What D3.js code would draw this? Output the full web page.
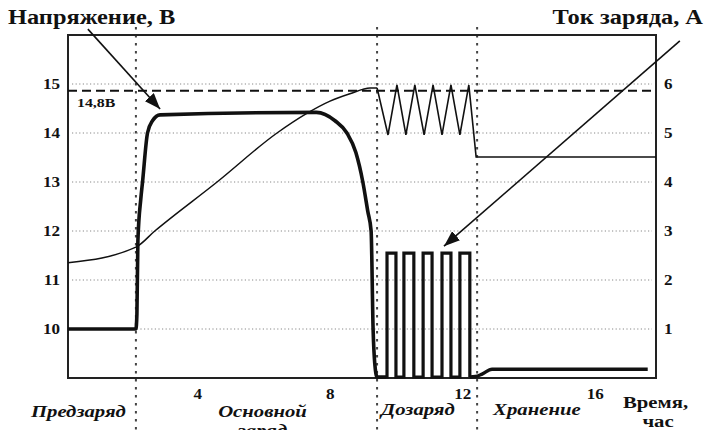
<!doctype html>
<html>
<head>
<meta charset="utf-8">
<title>Заряд аккумулятора</title>
<script src="https://cdn.jsdelivr.net/npm/d3@7"></script>
<style>
    body {
        margin: 0;
        padding: 0;
        background: #fff;
    }
    svg text {
        font-family: "Liberation Serif", "Times New Roman", "DejaVu Serif", serif;
        font-weight: bold;
        fill: #111;
    }
    .phase {
        font-style: italic;
    }
</style>
</head>
<body>
<svg id="chart" width="716" height="430"></svg>
<script>
    // axis ticks
    var xTicks = [4, 8, 12, 16];
    var voltTicks = [10, 11, 12, 13, 14, 15];
    var ampTicks = [1, 2, 3, 4, 5, 6];

    // phase borders (hours) and names
    var phaseBounds = [2.15, 9.43, 12.45];
    var phaseNames = ["Предзаряд", "Основной", "заряд", "Дозаряд", "Хранение"];
    var limitVolt = 14.86;

    // thin line - voltage (main charge)
    var voltTime  = [0.1, 2.15, 2.72, 4.6, 6.41, 7.31, 8.01, 8.61, 9.22, 9.43];
    var voltValue = [11.35, 11.67, 12.0, 13.0, 14.0, 14.4, 14.65, 14.8, 14.92, 14.92];

    // thin line - voltage zigzag in top-off, then storage level
    var topoffTime = [9.43, 9.76, 10.03, 10.3, 10.57, 10.85, 11.12, 11.39, 11.66, 11.93, 12.2, 12.42, 17.85];
    var topoffVolt = [14.92, 13.96, 14.98, 13.96, 14.98, 13.96, 14.98, 13.96, 14.98, 13.96, 14.98, 13.51, 13.51];

    // thick line - current
    var ampTime  = [0.1, 2.15, 2.18, 2.21, 2.3, 2.35, 2.5, 2.65, 2.88, 7.6, 8.16, 8.52, 8.79, 9.0, 9.15, 9.25, 9.31, 9.36, 9.43, 9.7];
    var ampValue = [1.0, 1.0, 1.3, 2.8, 3.67, 4.0, 5.0, 5.25, 5.37, 5.42, 5.25, 5.0, 4.6, 4.0, 3.4, 3.0, 1.0, 0.3, 0.02, 0.02];

    // current pulses in top-off
    var pulseOn  = [9.73, 10.24, 10.82, 11.39, 11.93];
    var pulseOff = [10.0, 10.54, 11.09, 11.66, 12.23];
    var pulseAmp = 2.55;
    var pulseBase = 0.02;

    // storage current
    var storeTime = [12.23, 12.4, 12.6, 12.9, 17.6];
    var storeAmp  = [0.02, 0.03, 0.08, 0.18, 0.18];

    // annotation arrows: [time, value] start -> tip
    var arrowVolt = [[0.7, 16.12], [2.88, 14.49]];
    var arrowAmp  = [[18.57, 6.88], [11.45, 2.69]];

    /*
    Layout
    */
    var SX = 1.22; // glyphs in the picture are wide
    var pLeft = 68, pRight = 656, pTop = 35, pBottom = 378;

    var svg = d3.select("#chart");

    var x = d3.scaleLinear().domain([0.1, 17.85]).range([pLeft, pRight]);
    var yV = d3.scaleLinear().domain([9, 16]).range([pBottom, pTop]);
    var yI = d3.scaleLinear().domain([0, 7]).range([pBottom, pTop]);

    function wide(sel, tx, ty) {
        sel.attr("transform", "translate(" + tx + "," + ty + ") scale(" + SX + ",1)");
    }

    svg.append("defs").append("marker")
        .attr("id", "head")
        .attr("viewBox", "0 0 16 12")
        .attr("refX", 16)
        .attr("refY", 6)
        .attr("markerWidth", 16)
        .attr("markerHeight", 12)
        .attr("markerUnits", "userSpaceOnUse")
        .attr("orient", "auto")
        .append("path")
        .attr("d", "M0,0 L16,6 L0,12 z")
        .attr("fill", "#111");

    // grid
    svg.selectAll(".grid")
        .data(voltTicks)
        .enter()
        .append("line")
        .attr("x1", pLeft + 4)
        .attr("x2", pRight - 4)
        .attr("y1", (d) => yV(d))
        .attr("y2", (d) => yV(d))
        .attr("stroke", "#888")
        .attr("stroke-width", 1)
        .attr("stroke-dasharray", "1.2,2.4");

    // phase borders
    svg.selectAll(".phaseLine")
        .data(phaseBounds)
        .enter()
        .append("line")
        .attr("x1", (d) => x(d))
        .attr("x2", (d) => x(d))
        .attr("y1", 27)
        .attr("y2", 430)
        .attr("stroke", "#444")
        .attr("stroke-width", 2)
        .attr("stroke-dasharray", "2.5,5.5");

    // box
    svg.append("rect")
        .attr("x", pLeft)
        .attr("y", pTop)
        .attr("width", pRight - pLeft)
        .attr("height", pBottom - pTop)
        .attr("fill", "none")
        .attr("stroke", "#222")
        .attr("stroke-width", 2);

    // 14,8 V limit
    svg.append("line")
        .attr("x1", pLeft)
        .attr("x2", pRight - 3)
        .attr("y1", yV(limitVolt))
        .attr("y2", yV(limitVolt))
        .attr("stroke", "#111")
        .attr("stroke-width", 2)
        .attr("stroke-dasharray", "9,5");

    svg.append("text")
        .text("14,8В")
        .attr("font-size", 13)
        .call(wide, pLeft + 9, yV(limitVolt) + 16);

    // voltage
    var vLine = d3.line()
        .x((d, i) => x(voltTime[i]))
        .y((d) => yV(d))
        .curve(d3.curveMonotoneX);

    svg.append("path")
        .datum(voltValue)
        .attr("d", vLine)
        .attr("fill", "none")
        .attr("stroke", "#111")
        .attr("stroke-width", 1.5);

    svg.append("path")
        .datum(topoffVolt)
        .attr("d", d3.line()
            .x((d, i) => x(topoffTime[i]))
            .y((d) => yV(d)))
        .attr("fill", "none")
        .attr("stroke", "#111")
        .attr("stroke-width", 1.6);

    // current
    svg.append("path")
        .datum(ampValue)
        .attr("d", d3.line()
            .x((d, i) => x(ampTime[i]))
            .y((d) => yI(d))
            .curve(d3.curveMonotoneX))
        .attr("fill", "none")
        .attr("stroke", "#111")
        .attr("stroke-width", 3.6)
        .attr("stroke-linejoin", "round");

    var pulsePts = [[ampTime[ampTime.length - 1], pulseBase]];
    pulseOn.forEach(function (t, i) {
        pulsePts.push([t, pulseBase], [t, pulseAmp], [pulseOff[i], pulseAmp], [pulseOff[i], pulseBase]);
    });
    pulsePts.push([storeTime[0], pulseBase]);

    svg.append("path")
        .datum(pulsePts)
        .attr("d", d3.line()
            .x((d) => x(d[0]))
            .y((d) => yI(d[1])))
        .attr("fill", "none")
        .attr("stroke", "#111")
        .attr("stroke-width", 3.2);

    svg.append("path")
        .datum(storeAmp)
        .attr("d", d3.line()
            .x((d, i) => x(storeTime[i]))
            .y((d) => yI(d))
            .curve(d3.curveMonotoneX))
        .attr("fill", "none")
        .attr("stroke", "#111")
        .attr("stroke-width", 3.4);

    // axes
    var axL = svg.append("g")
        .attr("transform", "translate(" + pLeft + ",0)")
        .call(d3.axisLeft(yV).tickValues(voltTicks).tickFormat(d3.format("d")).tickSize(0).tickPadding(8));
    var axR = svg.append("g")
        .attr("transform", "translate(" + pRight + ",0)")
        .call(d3.axisRight(yI).tickValues(ampTicks).tickFormat(d3.format("d")).tickSize(0).tickPadding(8));
    var axB = svg.append("g")
        .attr("transform", "translate(0," + pBottom + ")")
        .call(d3.axisBottom(x).tickValues(xTicks).tickFormat(d3.format("d")).tickSize(0).tickPadding(11));

    [axL, axR, axB].forEach(function (ax) {
        ax.attr("font-family", null).attr("font-size", null);
        ax.select(".domain").remove();
        ax.selectAll("text")
            .attr("font-size", 14)
            .each(function () {
                var t = d3.select(this);
                var tx = +t.attr("x") || 0;
                var ty = +t.attr("y") || 0;
                t.attr("x", 0).attr("y", 0).call(wide, tx, ty);
            });
    });

    // arrows
    svg.append("line")
        .attr("x1", x(arrowVolt[0][0]))
        .attr("y1", yV(arrowVolt[0][1]))
        .attr("x2", x(arrowVolt[1][0]))
        .attr("y2", yV(arrowVolt[1][1]))
        .attr("stroke", "#111")
        .attr("stroke-width", 1.6)
        .attr("marker-end", "url(#head)");

    svg.append("line")
        .attr("x1", x(arrowAmp[0][0]))
        .attr("y1", yI(arrowAmp[0][1]))
        .attr("x2", x(arrowAmp[1][0]))
        .attr("y2", yI(arrowAmp[1][1]))
        .attr("stroke", "#111")
        .attr("stroke-width", 1.6)
        .attr("marker-end", "url(#head)");

    // titles
    svg.append("text")
        .text("Напряжение, В")
        .attr("font-size", 20)
        .call(wide, 8, 24);

    svg.append("text")
        .text("Ток заряда, А")
        .attr("font-size", 20)
        .attr("text-anchor", "end")
        .call(wide, 703, 24);

    // phase names
    var phaseFont = 17;
    var mid = (x(phaseBounds[0]) + x(phaseBounds[1])) / 2 + 6;

    svg.append("text").attr("class", "phase").text(phaseNames[0])
        .attr("font-size", phaseFont).attr("text-anchor", "end")
        .call(wide, x(phaseBounds[0]) - 10, 417);
    svg.append("text").attr("class", "phase").text(phaseNames[1])
        .attr("font-size", phaseFont).attr("text-anchor", "middle")
        .call(wide, mid, 417);
    svg.append("text").attr("class", "phase").text(phaseNames[2])
        .attr("font-size", phaseFont).attr("text-anchor", "middle")
        .call(wide, mid, 436);
    svg.append("text").attr("class", "phase").text(phaseNames[3])
        .attr("font-size", phaseFont)
        .call(wide, x(phaseBounds[1]) + 4, 415);
    svg.append("text").attr("class", "phase").text(phaseNames[4])
        .attr("font-size", phaseFont)
        .call(wide, x(phaseBounds[2]) + 16, 415);

    svg.append("text").text("Время,")
        .attr("font-size", 17)
        .call(wide, 623, 408);
    svg.append("text").text("час")
        .attr("font-size", 17).attr("text-anchor", "middle")
        .call(wide, 658, 427);
</script>
</body>
</html>
